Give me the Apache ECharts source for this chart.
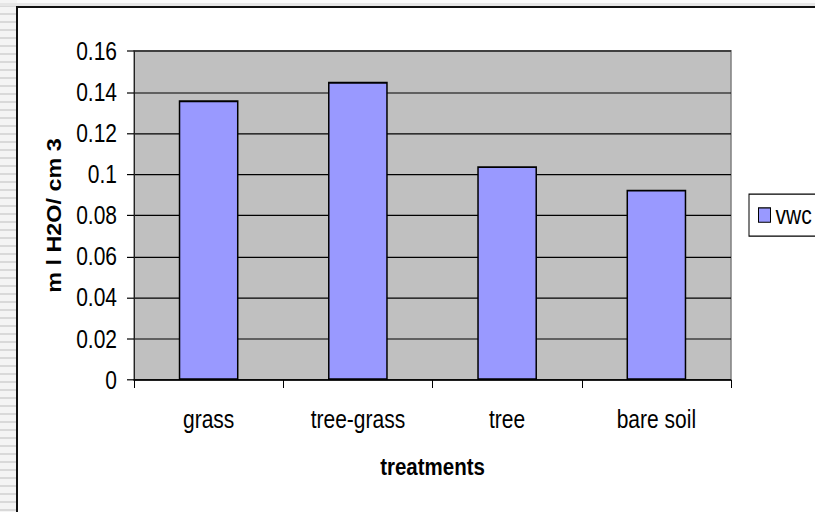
<!DOCTYPE html>
<html>
<head>
<meta charset="utf-8">
<script src="https://cdn.jsdelivr.net/npm/echarts@6/dist/echarts.min.js"></script>
<style>
  html, body { margin: 0; padding: 0; }
  body {
    width: 815px; height: 512px; overflow: hidden; position: relative;
    background: #fafafa;
  }
  #stripes {
    position: absolute; left: 0; top: 0; width: 17px; height: 512px;
    background: repeating-linear-gradient(to bottom, #f4f4f4 0px, #f4f4f4 5px, #d9d9d9 5px, #d9d9d9 7px, #f4f4f4 7px, #f4f4f4 8px);
  }
  #topband {
    position: absolute; left: 0; top: 3px; width: 815px; height: 3px; background: #e6e6e6;
  }
  #panel {
    position: absolute; left: 16px; top: 6px; width: 820px; height: 520px;
    background: #ffffff; border-top: 2px solid #111; border-left: 2px solid #111;
  }
  #chart {
    position: absolute; left: 0; top: 0; width: 815px; height: 426.67px;
    transform: scaleY(1.2); transform-origin: 0 0;
  }
</style>
</head>
<body>
<div id="stripes"></div>
<div id="topband"></div>
<div id="panel"></div>
<div id="chart"></div>
<script>
// Volumetric water content by treatment
const categories = ['grass', 'tree-grass', 'tree', 'bare soil'];
const vwc = [0.136, 0.145, 0.104, 0.0925];
const yTicks = [0, 0.02, 0.04, 0.06, 0.08, 0.1, 0.12, 0.14, 0.16];

const font = 'Liberation Sans, Arial, sans-serif';
const chart = echarts.init(document.getElementById('chart'), null, { renderer: 'svg' });

chart.setOption({
  animation: false,
  backgroundColor: 'transparent',
  grid: {
    left: 134, right: 84, top: 42.5, height: 274.2,
    show: true, backgroundColor: '#c0c0c0', borderColor: '#808080', borderWidth: 1.5
  },
  legend: {
    left: 749, top: 161.7,
    orient: 'vertical',
    backgroundColor: '#ffffff', borderColor: '#000', borderWidth: 1,
    padding: [7, 9, 7, 9],
    itemWidth: 12, itemHeight: 12, itemGap: 8,
    icon: 'rect',
    itemStyle: { borderColor: '#000', borderWidth: 1 },
    textStyle: { fontFamily: font, fontSize: 21, color: '#000' },
    data: ['vwc']
  },
  xAxis: {
    type: 'category',
    data: categories,
    boundaryGap: true,
    name: 'treatments',
    nameLocation: 'middle',
    nameGap: 62,
    nameTextStyle: { fontFamily: font, fontSize: 20.5, fontWeight: 'bold', color: '#000' },
    axisLine: { lineStyle: { color: '#000', width: 1 } },
    axisTick: { show: true, length: 6.7, alignWithLabel: false, lineStyle: { color: '#000' } },
    axisLabel: { fontFamily: font, fontSize: 21, color: '#000', margin: 22 },
    splitLine: { show: false }
  },
  yAxis: {
    type: 'value',
    min: yTicks[0], max: yTicks[yTicks.length - 1], interval: yTicks[1] - yTicks[0],
    name: 'm l H2O/ cm 3',
    nameLocation: 'middle',
    nameGap: 69,
    nameTextStyle: { fontFamily: font, fontSize: 19.5, fontWeight: 'bold', color: '#000' },
    axisLine: { show: true, lineStyle: { color: '#222', width: 1 } },
    axisTick: { show: true, inside: false, length: 7, lineStyle: { color: '#000' } },
    axisLabel: { fontFamily: font, fontSize: 21, color: '#000', margin: 17 },
    splitLine: { show: true, lineStyle: { color: '#000', width: 1 } }
  },
  series: [{
    name: 'vwc',
    type: 'bar',
    data: vwc,
    barCategoryGap: '60%',
    itemStyle: { color: '#9999ff', borderColor: '#000', borderWidth: 1.5 }
  }]
});
</script>
</body>
</html>
